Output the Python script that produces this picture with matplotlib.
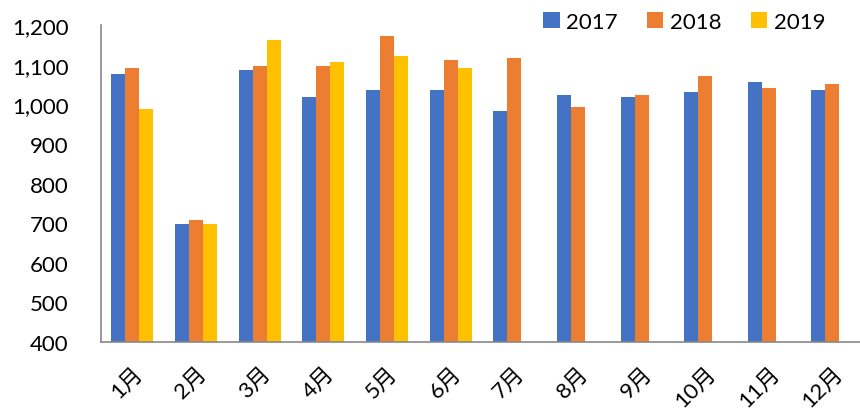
import numpy as np
import matplotlib
matplotlib.use('Agg')
import matplotlib.pyplot as plt
from matplotlib.ticker import FuncFormatter

plt.rcParams['font.family'] = ['Lato', 'Noto Sans CJK SC', 'DejaVu Sans']

# 月份和各年份数据
months = ['1月', '2月', '3月', '4月', '5月', '6月', '7月', '8月', '9月', '10月', '11月', '12月']
v2017 = [1078, 698, 1088, 1018, 1038, 1038, 983, 1023, 1018, 1033, 1058, 1038]
v2018 = [1093, 708, 1098, 1098, 1173, 1113, 1118, 993, 1023, 1073, 1043, 1053]
v2019 = [988, 698, 1163, 1108, 1123, 1093]

col17 = '#4472C4'
col18 = '#ED7D31'
col19 = '#FFC000'

fig = plt.figure(figsize=(8.6, 4.14), dpi=100)
ax = fig.add_axes([0.117, 0.172, 0.888, 0.764])

x = np.arange(len(months))
w = 0.22
ax.bar(x - w, v2017, width=w, color=col17, label='2017')
ax.bar(x, v2018, width=w, color=col18, label='2018')
ax.bar(x[:len(v2019)] + w, v2019, width=w, color=col19, label='2019')

ax.set_ylim(400, 1200)
ax.set_yticks(range(400, 1201, 100))
ax.yaxis.set_major_formatter(FuncFormatter(lambda v, p: '{:,.0f}'.format(v)))
ax.set_xlim(-0.5, len(months) - 0.5)
ax.set_xticks(x)
ax.set_xticklabels(months, rotation=45, ha='right', va='top', rotation_mode='anchor')

ax.tick_params(axis='y', length=0, labelsize=16, pad=23)
ax.tick_params(axis='x', length=0, labelsize=16, pad=15)

for s in ['top', 'right']:
    ax.spines[s].set_visible(False)
ax.spines['left'].set_color('#888888')
ax.spines['bottom'].set_color('#888888')
ax.spines['left'].set_linewidth(1.2)
ax.spines['bottom'].set_linewidth(1.2)

fig.legend(loc='center right', bbox_to_anchor=(0.983, 0.945), ncol=3, frameon=False,
           fontsize=16, handlelength=0.75, handleheight=0.75, columnspacing=1.3,
           handletextpad=0.3)

fig.savefig('out.png', dpi=100)
